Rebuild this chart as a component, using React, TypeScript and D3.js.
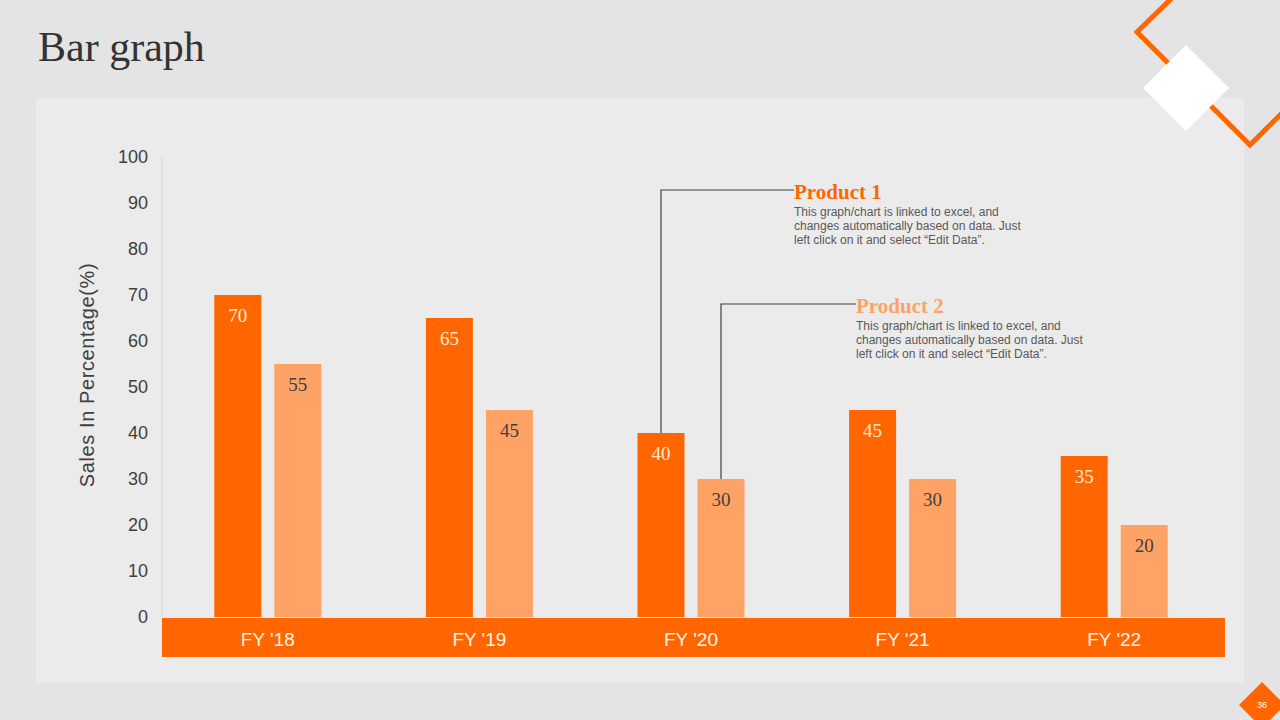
import React from 'react';
import * as d3 from 'd3';

// chart data
const categories = ["FY '18", "FY '19", "FY '20", "FY '21", "FY '22"];
const seriesNames = ['Product 1', 'Product 2'];
const product1 = [70, 65, 40, 45, 35];
const product2 = [55, 45, 30, 30, 20];
const yTicks = [0, 10, 20, 30, 40, 50, 60, 70, 80, 90, 100];
const calloutText = [
  'This graph/chart is linked to excel,  and',
  'changes automatically based on data. Just',
  'left click on it and select \u201cEdit Data\u201d.',
];

const ORANGE = '#ff6600';
const LIGHT = '#ffa265';
const SANS = 'Arial, "Liberation Sans", sans-serif';
const SERIF = '"Times New Roman", "Liberation Serif", serif';

export default function App() {
  const plot = { left: 162, right: 1225, top: 157, bottom: 617 };

  const x0 = d3.scaleBand<string>().domain(categories).range([plot.left, 1220]);
  const x1 = d3
    .scaleBand<string>()
    .domain(seriesNames)
    .range([0, 107])
    .paddingInner(13 / 60)
    .paddingOuter(0);
  const y = d3.scaleLinear().domain([0, 100]).range([plot.bottom, plot.top]);

  const groupX = (c: string) => x0(c)! + x0.bandwidth() / 2 - 53.5;

  const rows = categories.map((c, i) => ({ c, values: [product1[i], product2[i]] }));

  // callout anchors: top of the FY '20 bars
  const p1x = groupX(categories[2]) + x1(seriesNames[0])! + x1.bandwidth() / 2;
  const p2x = groupX(categories[2]) + x1(seriesNames[1])! + x1.bandwidth() / 2;

  const callouts = [
    { name: seriesNames[0], color: ORANGE, ax: p1x, ay: y(product1[2]), ly: 190, tx: 794 },
    { name: seriesNames[1], color: LIGHT, ax: p2x, ay: y(product2[2]), ly: 304, tx: 856 },
  ];

  return (
    <svg
      width={1280}
      height={720}
      style={{ position: 'fixed', left: 0, top: 0 }}
      xmlns="http://www.w3.org/2000/svg"
    >
      {/* slide background */}
      <rect x={0} y={0} width={1280} height={720} fill="#e4e4e4" />
      <rect x={36} y={98} width={1208} height={584} fill="#ebebeb" />

      {/* decoration top right */}
      <path
        d="M1172,-2 L1137,32 L1250,145 L1292,103"
        fill="none"
        stroke={ORANGE}
        strokeWidth={5}
      />
      <path d="M1186,45 L1229,88 L1186,131 L1143,88 Z" fill="#ffffff" />

      {/* title */}
      <text x={38} y={61} fontFamily={SERIF} fontSize={42} fill="#333333">
        Bar graph
      </text>

      {/* y axis */}
      <line x1={plot.left} x2={plot.left} y1={plot.top} y2={plot.bottom} stroke="#d4d4d4" />
      {yTicks.map(t => (
        <text
          key={t}
          x={148}
          y={y(t)}
          textAnchor="end"
          dominantBaseline="central"
          fontFamily={SANS}
          fontSize={18}
          fill="#404040"
        >
          {t}
        </text>
      ))}
      <text
        transform={`translate(87,375) rotate(-90)`}
        textAnchor="middle"
        dominantBaseline="central"
        fontFamily={SANS}
        fontSize={20}
        letterSpacing={0.6}
        fill="#404040"
      >
        Sales In Percentage(%)
      </text>

      {/* bars */}
      {rows.map(r => (
        <g key={r.c} transform={`translate(${groupX(r.c)},0)`}>
          {r.values.map((v, j) => (
            <g key={j}>
              <rect
                x={x1(seriesNames[j])}
                y={y(v)}
                width={x1.bandwidth()}
                height={plot.bottom - y(v)}
                fill={j === 0 ? ORANGE : LIGHT}
              />
              <text
                x={x1(seriesNames[j])! + x1.bandwidth() / 2}
                y={y(v) + 20}
                textAnchor="middle"
                dominantBaseline="central"
                fontFamily={SERIF}
                fontSize={19}
                fill={j === 0 ? '#ffe9d6' : '#404040'}
              >
                {v}
              </text>
            </g>
          ))}
        </g>
      ))}

      {/* category band */}
      <rect x={plot.left} y={618} width={plot.right - plot.left} height={39} fill={ORANGE} />
      {categories.map(c => (
        <text
          key={c}
          x={x0(c)! + x0.bandwidth() / 2}
          y={639}
          textAnchor="middle"
          dominantBaseline="central"
          fontFamily={SANS}
          fontSize={19}
          fill="#fff4e6"
        >
          {c}
        </text>
      ))}

      {/* callouts */}
      {callouts.map(co => (
        <g key={co.name}>
          <path
            d={`M${co.ax},${co.ay} V${co.ly} H${co.tx}`}
            fill="none"
            stroke="#404040"
            strokeWidth={1.2}
          />
          <text
            x={co.tx}
            y={co.ly + 2}
            dominantBaseline="central"
            fontFamily={SERIF}
            fontWeight="bold"
            fontSize={21}
            fill={co.color}
          >
            {co.name}
          </text>
          {calloutText.map((line, k) => (
            <text
              key={k}
              x={co.tx}
              y={co.ly + 22 + k * 14}
              dominantBaseline="central"
              fontFamily={SANS}
              fontSize={12}
              fill="#595959"
            >
              {line}
            </text>
          ))}
        </g>
      ))}

      {/* page number */}
      <path d="M1262,682 L1285,705 L1262,728 L1239,705 Z" fill={ORANGE} />
      <text
        x={1262}
        y={705}
        textAnchor="middle"
        dominantBaseline="central"
        fontFamily={SANS}
        fontSize={9}
        fill="#ffffff"
      >
        36
      </text>
    </svg>
  );
}
